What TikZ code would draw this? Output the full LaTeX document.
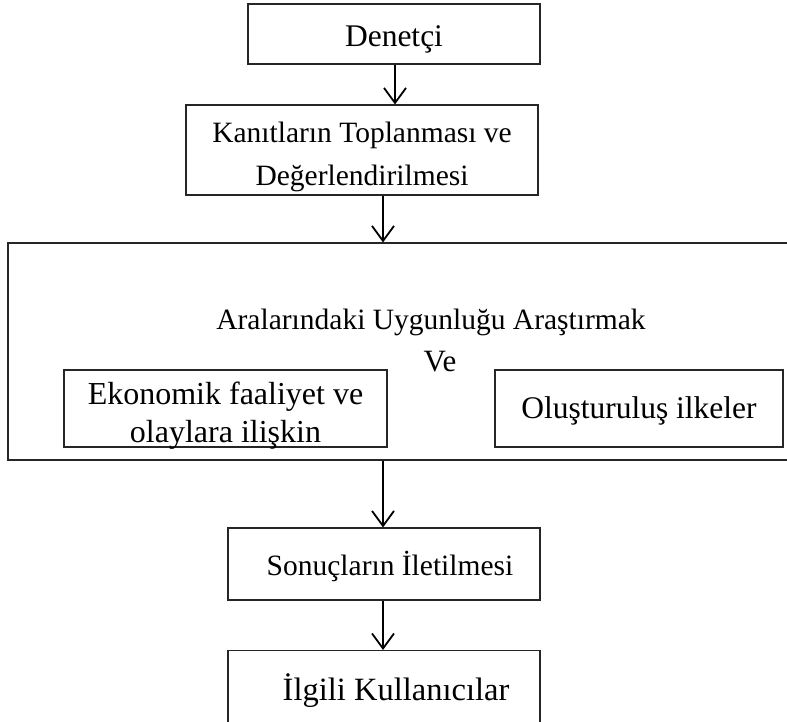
\documentclass[tikz,border=0pt]{standalone}
\usepackage{fontspec}
\setmainfont{Liberation Serif}
\usetikzlibrary{arrows.meta}
\begin{document}
\begin{tikzpicture}[x=1pt,y=-1pt,
  box/.style={draw=black!85, line width=1.1pt, inner sep=0pt},
  lbl/.style={inner sep=0pt, align=center},
  arr/.style={draw=black, line width=1.8pt, -{Straight Barb[length=15pt,width=22pt]}}]
\useasboundingbox (0,0) rectangle (787,722);
\clip (0,0) rectangle (787,722);

% frames
\node[box, minimum width=292pt, minimum height=60pt] (den) at (394,34) {};
\node[box, minimum width=352pt, minimum height=90pt] (kan) at (362,150) {};
\node[box, minimum width=792pt, minimum height=217pt] (big) at (404,351.5) {};
\node[box, minimum width=323pt, minimum height=77pt] (eko) at (225.5,408.5) {};
\node[box, minimum width=288pt, minimum height=77pt] (olu) at (639,408.5) {};
\node[box, minimum width=312pt, minimum height=72pt] (son) at (384,564) {};
\node[box, minimum width=312pt, minimum height=84pt, anchor=north] (ilg) at (384,650) {};

% labels
\node[lbl, font=\fontsize{31.5}{40}\selectfont] (dent) at (394,39) {Denetçi};
\node[lbl, font=\fontsize{29.5}{43}\selectfont] (kant) at (362,157)
  {Kanıtların Toplanması ve\\Değerlendirilmesi};
\node[lbl, font=\fontsize{29.5}{40}\selectfont] (title) at (431,322) {Aralarındaki Uygunluğu Araştırmak};
\node[lbl, font=\fontsize{32}{38}\selectfont] (ekot) at (225.5,416)
  {Ekonomik faaliyet ve\\olaylara ilişkin};
\node[lbl, font=\fontsize{31}{40}\selectfont] (ve) at (440,362) {Ve};
\node[lbl, font=\fontsize{31.5}{40}\selectfont] (olut) at (639,411) {Oluşturuluş ilkeler};
\node[lbl, font=\fontsize{29.5}{40}\selectfont] (sont) at (390,566) {Sonuçların İletilmesi};
\node[lbl, font=\fontsize{32.5}{40}\selectfont] (ilgt) at (396,691) {İlgili Kullanıcılar};

% x positions of the vertical connectors
\coordinate (xa) at (395,0);
\coordinate (xb) at (383,0);

\draw[arr] (den.south -| xa) -- (kan.north -| xa);
\draw[arr] (kan.south -| xb) -- (big.north -| xb);
\draw[arr] (big.south -| xb) -- (son.north -| xb);
\draw[arr] (son.south -| xb) -- (ilg.north -| xb);
\end{tikzpicture}
\end{document}
